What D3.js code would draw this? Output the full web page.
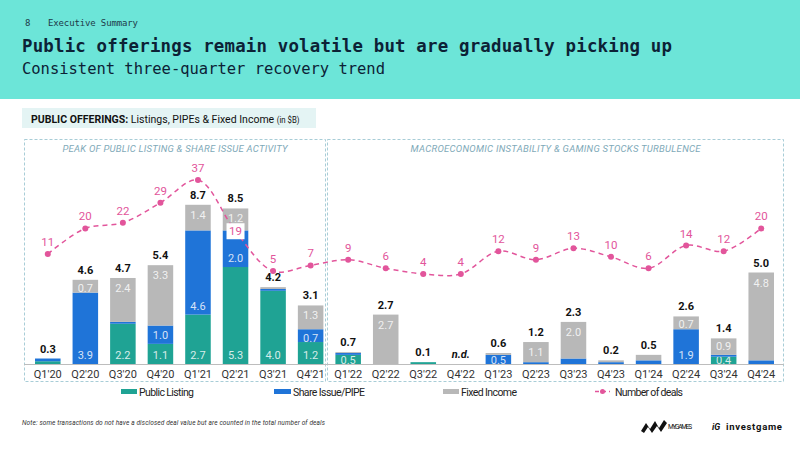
<!DOCTYPE html>
<html><head><meta charset="utf-8">
<script src="https://cdn.jsdelivr.net/npm/d3@7"></script>
<style>body{margin:0;background:#fff}svg{display:block}</style>
</head><body><svg id="c" width="800" height="450"></svg>
<script>
const quarters = ["Q1'20","Q2'20","Q3'20","Q4'20","Q1'21","Q2'21","Q3'21","Q4'21","Q1'22","Q2'22","Q3'22","Q4'22","Q1'23","Q2'23","Q3'23","Q4'23","Q1'24","Q2'24","Q3'24","Q4'24"];
const listing     = [0.15,0,  2.2,1.1,2.7,5.3,4.0,1.2,0.5,0,  0.1,0,0,  0,  0,  0,   0,  0,  0.4,0];
const pipe        = [0.15,3.9,0.1,1.0,4.6,2.0,0.1,0.7,0.1,0,  0,  0,0.5,0.1,0.3,0.1, 0.2,1.9,0.1,0.2];
const fixedIncome = [0,   0.7,2.4,3.3,1.4,1.2,0.1,1.3,0.05,2.7,0, 0,0.1,1.1,2.0,0.1, 0.3,0.7,0.9,4.8];
const totalLabels = ["0.3","4.6","4.7","5.4","8.7","8.5","4.2","3.1","0.7","2.7","0.1","n.d.","0.6","1.2","2.3","0.2","0.5","2.6","1.4","5.0"];
const deals = [11,20,22,29,37,19,5,7,9,6,4,4,12,9,13,10,6,14,12,20];
const seriesNames = ["Public Listing","Share Issue/PIPE","Fixed Income"];
const seriesColors = ["#1fa394","#1f74d8","#b8b8b8"];
const dealColor = "#e2559b";

const svg = d3.select("#c");
const FONT = "Roboto, 'Noto Sans', sans-serif";
const MONO = "'DejaVu Sans Mono', 'Liberation Mono', monospace";

// Header
svg.append("rect").attr("x",0).attr("y",0).attr("width",800).attr("height",99).attr("fill","#6ce5d8");
svg.append("text").attr("x",25).attr("y",26).attr("font-family",MONO).attr("font-size",9).attr("fill","#1d3a48").text("8");
svg.append("text").attr("x",48).attr("y",26).attr("font-family",MONO).attr("font-size",9).attr("fill","#1d3a48").attr("textLength",90).text("Executive Summary");
svg.append("text").attr("x",22).attr("y",52).attr("font-family",MONO).attr("font-weight","bold").attr("font-size",17.4).attr("fill","#0c2236").attr("textLength",650).text("Public offerings remain volatile but are gradually picking up");
svg.append("text").attr("x",22).attr("y",74).attr("font-family",MONO).attr("font-size",15.5).attr("fill","#0c2236").attr("textLength",363).text("Consistent three-quarter recovery trend");

// Sub box
svg.append("rect").attr("x",22).attr("y",108).attr("width",294).attr("height",20).attr("fill","#e4f4f4");
const st = svg.append("text").attr("transform","translate(31,122.5) scale(0.915,1)").attr("font-family",FONT).attr("font-size",11.5).attr("fill","#111");
st.append("tspan").attr("font-weight","bold").text("PUBLIC OFFERINGS: ");
st.append("tspan").text("Listings, PIPEs & Fixed Income ");
st.append("tspan").attr("font-size",8.5).text("(in $B)");

// dashed panels
const boxes = [{x:24.5,w:301,t:"PEAK OF PUBLIC LISTING & SHARE ISSUE ACTIVITY",tl:225},{x:327.5,w:456,t:"MACROECONOMIC INSTABILITY & GAMING STOCKS TURBULENCE",tl:290}];
boxes.forEach(b=>{
  svg.append("rect").attr("x",b.x).attr("y",139.5).attr("width",b.w).attr("height",242).attr("fill","none")
    .attr("stroke","#a8cdd7").attr("stroke-dasharray","3,2").attr("stroke-width",1);
  svg.append("text").attr("x",b.x+b.w/2).attr("y",152).attr("text-anchor","middle").attr("font-family",FONT)
    .attr("font-style","italic").attr("font-size",9.5).attr("fill","#7ea9b8").attr("textLength",b.tl).text(b.t);
});

// scales
const x = d3.scaleBand().domain(quarters).range([23,786]).padding(0.32);
const y = d3.scaleLinear().domain([0,10]).range([364,181]);
const yd = d3.scaleLinear().domain([0,40]).range([285.3,171.5]);

const rows = quarters.map((q,i)=>({q, listing:listing[i], pipe:pipe[i], fixed:fixedIncome[i], total:totalLabels[i], deals:deals[i]}));
const keys = ["listing","pipe","fixed"];
const stack = d3.stack().keys(keys)(rows);

// x axis
const ax = svg.append("g").attr("transform","translate(0,364)").call(d3.axisBottom(x).tickSize(0).tickPadding(6));
ax.select(".domain").remove();
ax.selectAll("text").attr("font-family",FONT).attr("font-size",11).attr("fill","#333");
svg.append("line").attr("x1",24).attr("x2",784).attr("y1",364.5).attr("y2",364.5).attr("stroke","#bdbdbd").attr("stroke-width",1);

// bars
stack.forEach((s,k)=>{
  svg.append("g").selectAll("rect").data(s).join("rect")
    .attr("x",d=>x(d.data.q)).attr("width",x.bandwidth())
    .attr("y",d=>y(d[1])).attr("height",d=>Math.max(0,y(d[0])-y(d[1])))
    .attr("fill",seriesColors[k]);
  svg.append("g").selectAll("text").data(s.filter(d=>d[1]-d[0]>=0.35)).join("text")
    .attr("x",d=>x(d.data.q)+x.bandwidth()/2)
    .attr("y",d=>{
      const h = y(d[0])-y(d[1]);
      if (k===2) return y(d[1]) + (h<20 ? 12 : 14);
      return y(d[0]) - (h<15 ? 0.5 : 5);
    })
    .attr("text-anchor","middle").attr("font-family",FONT).attr("font-size",11)
    .attr("fill","rgba(255,255,255,0.82)")
    .text(d=>d3.format(".1f")(d[1]-d[0]));
});
// total labels
svg.append("g").selectAll("text").data(rows).join("text")
  .attr("x",d=>x(d.q)+x.bandwidth()/2)
  .attr("y",d=>y(d.listing+d.pipe+d.fixed)-6)
  .attr("text-anchor","middle").attr("font-family",FONT).attr("font-size",11).attr("font-weight","bold")
  .attr("font-style",d=>d.total==="n.d."?"italic":"normal").attr("fill","#111")
  .text(d=>d.total);

// deals line
const line = d3.line().x(d=>x(d.q)+x.bandwidth()/2).y(d=>yd(d.deals)).curve(d3.curveCatmullRom.alpha(0.5));
svg.append("path").datum(rows).attr("d",line).attr("fill","none").attr("stroke",dealColor)
  .attr("stroke-width",1.5).attr("stroke-dasharray","5,4");
svg.append("g").selectAll("circle").data(rows).join("circle")
  .attr("cx",d=>x(d.q)+x.bandwidth()/2).attr("cy",d=>yd(d.deals)).attr("r",3).attr("fill",dealColor);
const dl = svg.append("g").selectAll("g").data(rows).join("g")
  .attr("transform",(d,i)=>`translate(${x(d.q)+x.bandwidth()/2},${i===5?yd(d.deals):yd(d.deals)-12})`);
dl.filter((d,i)=>i===5).append("rect").attr("x",-9).attr("y",-8).attr("width",18).attr("height",16).attr("fill","#fff");
dl.append("text").attr("text-anchor","middle").attr("dy","0.35em").attr("font-family",FONT).attr("font-size",11.5)
  .attr("fill",dealColor).text(d=>d.deals);

// legend
const leg = [{x:121,w:16,c:seriesColors[0],t:seriesNames[0],tl:55},{x:274,w:17,c:seriesColors[1],t:seriesNames[1],tl:72},{x:443,w:16,c:seriesColors[2],t:seriesNames[2],tl:56}];
leg.forEach(l=>{
  svg.append("rect").attr("x",l.x).attr("y",389).attr("width",l.w).attr("height",5).attr("fill",l.c);
  svg.append("text").attr("x",l.x+l.w+2).attr("y",396).attr("font-family",FONT).attr("font-size",10.5).attr("fill","#222")
    .attr("textLength",l.tl).text(l.t);
});
svg.append("line").attr("x1",595).attr("x2",610).attr("y1",391.5).attr("y2",391.5).attr("stroke",dealColor).attr("stroke-width",1.5).attr("stroke-dasharray","4,3");
svg.append("circle").attr("cx",602.5).attr("cy",391.5).attr("r",2.5).attr("fill",dealColor);
svg.append("text").attr("x",615).attr("y",396).attr("font-family",FONT).attr("font-size",10.5).attr("fill","#222").attr("textLength",68).text("Number of deals");

// note
svg.append("text").attr("x",22).attr("y",425).attr("font-family",FONT).attr("font-style","italic").attr("font-size",6.5)
  .attr("fill","#333").attr("textLength",303).text("Note: some transactions do not have a disclosed deal value but are counted in the total number of deals");

// logos
svg.append("path").attr("d","M641,431 L646,423 L650,429 L655,421 L659,428 L664,420 L667,423 L661,432 L657,426 L652,433 L648,427 L644,433 Z").attr("fill","#111");
svg.append("text").attr("x",668).attr("y",429).attr("font-family",FONT).attr("font-size",6.5).attr("fill","#111").attr("textLength",24).text("MY.GAMES");
svg.append("text").attr("x",712).attr("y",429.5).attr("font-family",FONT).attr("font-style","italic").attr("font-weight","bold").attr("font-size",9).attr("fill","#111").text("iG");
svg.append("text").attr("x",726).attr("y",429.5).attr("font-family",FONT).attr("font-weight","bold").attr("font-size",9.5).attr("fill","#111").attr("textLength",56).text("investgame");
</script></body></html>
